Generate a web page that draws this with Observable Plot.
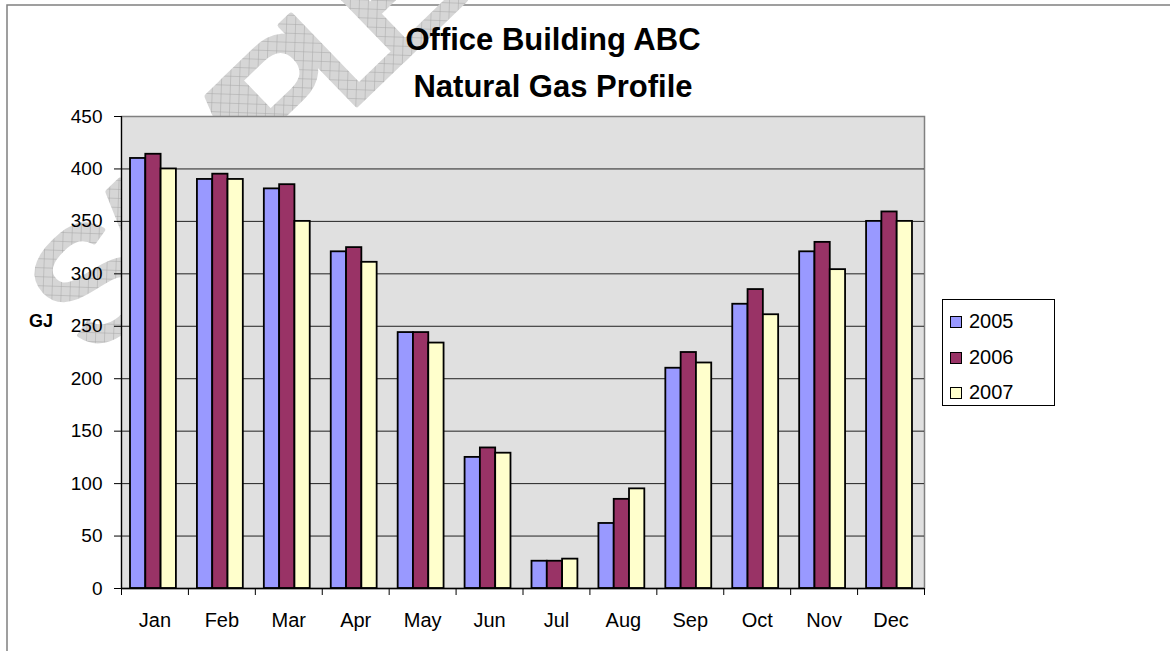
<!DOCTYPE html>
<html>
<head>
<meta charset="utf-8">
<script src="https://cdn.jsdelivr.net/npm/d3@7"></script>
<script src="https://cdn.jsdelivr.net/npm/@observablehq/plot@0.6"></script>
<style>
  html, body { margin: 0; padding: 0; background: #fff; }
  #wrap { position: relative; width: 1170px; height: 651px; overflow: hidden; font-family: "Liberation Sans", Arial, sans-serif; }
  #back { position: absolute; left: 0; top: 0; }
  #chart { position: absolute; left: 0; top: 0; }
  #legend { position: absolute; left: 942px; top: 299px; width: 111px; height: 105px; border: 1px solid #000; background: #fff; }
  .item { position: absolute; left: 7px; height: 22px; font-size: 20px; line-height: 22px; color: #000; }
  .sw { position: absolute; left: 0; top: 4px; width: 10px; height: 10px; border: 1.5px solid #000; }
  .lab { position: absolute; left: 19px; top: -2px; white-space: nowrap; }
</style>
</head>
<body>
<div id="wrap">
  <svg id="back" width="1170" height="651">
    <defs>
      <pattern id="hatch" width="9" height="9" patternUnits="userSpaceOnUse" patternTransform="rotate(-44)">
        <rect width="9" height="9" fill="#d6d6d6"/>
        <path d="M0 0H9M0 0V9" stroke="#a6a6a6" stroke-width="1"/>
      </pattern>
    </defs>
    <rect x="7" y="5" width="1250" height="700" fill="none" stroke="#808080" stroke-width="1.5"/>
    <text x="233" y="202" transform="rotate(-44 233 145)" font-family="Liberation Sans, Arial, sans-serif" font-size="160" letter-spacing="-25" text-anchor="middle" fill="url(#hatch)" stroke="url(#hatch)" stroke-width="5" stroke-linejoin="round">SAMPLE</text>
    <text id="t1" x="553" y="50" text-anchor="middle" font-family="Liberation Sans, Arial, sans-serif" font-weight="bold" font-size="31"></text>
    <text id="t2" x="553" y="97" text-anchor="middle" font-family="Liberation Sans, Arial, sans-serif" font-weight="bold" font-size="31"></text>
    <text id="yl" x="41" y="327" text-anchor="middle" font-family="Liberation Sans, Arial, sans-serif" font-weight="bold" font-size="18"></text>
  </svg>
  <div id="chart"></div>
  <div id="legend"></div>
</div>
<script>
const titleLines = ["Office Building ABC", "Natural Gas Profile"];
const yLabel = "GJ";
const months = ["Jan","Feb","Mar","Apr","May","Jun","Jul","Aug","Sep","Oct","Nov","Dec"];
const years = ["2005","2006","2007"];
const v2005 = [410, 390, 381, 321, 244, 125, 26, 62, 210, 271, 321, 350];
const v2006 = [414, 395, 385, 325, 244, 134, 26, 85, 225, 285, 330, 359];
const v2007 = [400, 390, 350, 311, 234, 129, 28, 95, 215, 261, 304, 350];
const yTicks = [0, 50, 100, 150, 200, 250, 300, 350, 400, 450];
const colors = ["#9999FF", "#993366", "#FFFFCC"];

const series = [v2005, v2006, v2007];
const data = months.flatMap((m, i) => years.map((yr, j) => ({month: m, year: yr, value: series[j][i]})));

document.getElementById("t1").textContent = titleLines[0];
document.getElementById("t2").textContent = titleLines[1];
document.getElementById("yl").textContent = yLabel;

const W = 1170, H = 651;
const mL = 121, mR = 246, mT = 116, mB = 63;
const step = (W - mL - mR) / months.length;
const barW = 15.3;
const gap = 9;

const plot = Plot.plot({
  width: W,
  height: H,
  marginLeft: mL,
  marginRight: mR,
  marginTop: mT,
  marginBottom: mB,
  style: {background: "transparent", fontFamily: "'Liberation Sans', Arial, sans-serif", color: "#000", overflow: "visible"},
  x: {type: "band", domain: months, padding: 0, round: false},
  y: {domain: [0, 450]},
  marks: [
    Plot.frame({fill: "#e0e0e0", stroke: "#808080", strokeWidth: 1.5}),
    Plot.ruleY(yTicks.filter(d => d > 0 && d < 450), {stroke: "#222", strokeWidth: 1}),
    ...years.map((yr, j) => Plot.barY(data.filter(d => d.year === yr), {
      x: "month", y: "value", fill: colors[j], stroke: "#000", strokeWidth: 1.8,
      insetLeft: gap + j * barW, insetRight: step - gap - (j + 1) * barW
    })),
    Plot.ruleY([0], {stroke: "#000", strokeWidth: 1.5}),
    Plot.ruleX([months[0]], {x: d => d, dx: -step / 2, stroke: "#000", strokeWidth: 1.2}),
    Plot.ruleX(months, {x: d => d, dx: -step / 2, y1: 0, y2: 0, insetBottom: -7, stroke: "#000"}),
    Plot.ruleX([months[months.length - 1]], {x: d => d, dx: step / 2, y1: 0, y2: 0, insetBottom: -7, stroke: "#000"}),
    Plot.axisY(yTicks, {tickSize: 7, tickPadding: 12, fontSize: 19, label: null}),
    Plot.axisX({tickSize: 0, tickPadding: 24, fontSize: 20, label: null})
  ]
});
document.getElementById("chart").appendChild(plot);

const legend = document.getElementById("legend");
years.forEach((yr, j) => {
  const it = document.createElement("div");
  it.className = "item";
  it.style.top = (12 + j * 35.5) + "px";
  const sw = document.createElement("div");
  sw.className = "sw";
  sw.style.background = colors[j];
  const lab = document.createElement("div");
  lab.className = "lab";
  lab.textContent = yr;
  it.appendChild(sw);
  it.appendChild(lab);
  legend.appendChild(it);
});
</script>
</body>
</html>
